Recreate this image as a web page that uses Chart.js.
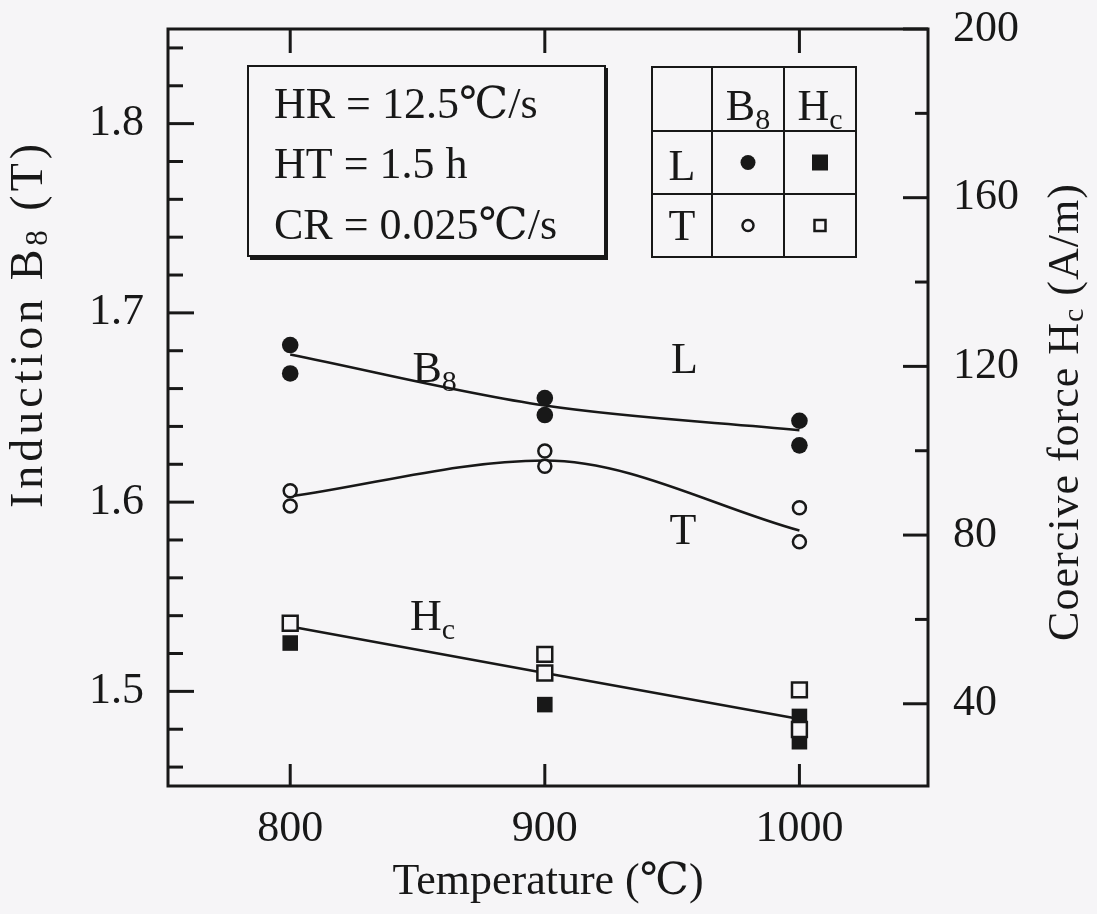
<!DOCTYPE html>
<html>
<head>
<meta charset="utf-8">
<script src="https://cdn.jsdelivr.net/npm/chart.js@4.4.1/dist/chart.umd.min.js"></script>
<style>
  html, body { margin: 0; padding: 0; background: #f6f5f7; }
  #wrap { width: 1097px; height: 914px; }
</style>
</head>
<body>
<div id="wrap"><canvas id="chart" width="1097" height="914"></canvas></div>
<script>
// temperatures (x axis)
const xTicks = [800, 900, 1000];

// B8 (left axis, T)
const b8LTemp = [800, 800, 900, 900, 1000, 1000];
const b8L = [1.683, 1.668, 1.655, 1.646, 1.643, 1.630];
const b8TTemp = [800, 800, 900, 900, 1000, 1000];
const b8T = [1.606, 1.598, 1.627, 1.619, 1.597, 1.579];

// Hc (right axis, A/m)
const hcLTemp = [800, 900, 1000, 1000];
const hcL = [54.4, 39.8, 37.0, 31.0];
const hcTTemp = [800, 900, 900, 1000, 1000];
const hcT = [59.1, 51.7, 47.3, 43.3, 33.9];

// fitted curves
const fitTemp = [800, 900, 1000];
const fitB8L = [1.678, 1.651, 1.638];
const fitB8T = [1.603, 1.622, 1.585];
const fitHc = [58.3, 47.3, 36.4];

// tick values / labels
const leftTicks = [1.46, 1.48, 1.50, 1.52, 1.54, 1.56, 1.58, 1.60, 1.62, 1.64, 1.66, 1.68, 1.70, 1.72, 1.74, 1.76, 1.78, 1.80, 1.82, 1.84];
const leftMajor = [1.5, 1.6, 1.7, 1.8];
const rightTicks = [40, 60, 80, 100, 120, 140, 160, 180, 200];
const rightMajor = [40, 80, 120, 160, 200];

const INK = '#181818';
const PAPER = '#f6f5f7';
const SERIF = "'Liberation Serif', 'DejaVu Serif', 'Noto Sans CJK JP', serif";
const FS = 44;

function pts(xs, ys) {
    return xs.map((x, i) => ({ x: x, y: ys[i] }));
}

// texte avec indice (B8, Hc)
function drawRich(ctx, parts, x, y, size, align) {
    const sub = Math.round(size * 0.68);
    let w = 0;
    parts.forEach(p => {
        ctx.font = (p[1] ? sub : size) + 'px ' + SERIF;
        w += ctx.measureText(p[0]).width;
    });
    let cx = align === 'center' ? x - w / 2 : x;
    ctx.textAlign = 'left';
    parts.forEach(p => {
        ctx.font = (p[1] ? sub : size) + 'px ' + SERIF;
        ctx.fillText(p[0], cx, p[1] ? y + size * 0.2 : y);
        cx += ctx.measureText(p[0]).width;
    });
}

function seg(ctx, x1, y1, x2, y2) {
    ctx.beginPath();
    ctx.moveTo(x1, y1);
    ctx.lineTo(x2, y2);
    ctx.stroke();
}

// cadre, ticks intérieurs, étiquettes et encadrés
const decorPlugin = {
    id: 'decor',
    afterDatasetsDraw(chart) {
        const { ctx, chartArea: a, scales } = chart;
        ctx.save();
        ctx.strokeStyle = INK;
        ctx.fillStyle = INK;
        ctx.lineWidth = 3;
        ctx.strokeRect(a.left, a.top, a.right - a.left, a.bottom - a.top);

        scales.y.ticks.forEach(t => {
            const py = scales.y.getPixelForValue(t.value);
            seg(ctx, a.left, py, a.left + (t.label ? 26 : 15), py);
        });
        scales.y2.ticks.forEach(t => {
            const py = scales.y2.getPixelForValue(t.value);
            seg(ctx, a.right, py, a.right - (t.label ? 25 : 13), py);
        });
        scales.x.ticks.forEach(t => {
            const px = scales.x.getPixelForValue(t.value);
            seg(ctx, px, a.bottom, px, a.bottom - 22);
            seg(ctx, px, a.top, px, a.top + 24);
        });

        // étiquettes des courbes
        ctx.textBaseline = 'alphabetic';
        const X = v => scales.x.getPixelForValue(v);
        const YL = v => scales.y.getPixelForValue(v);
        const YR = v => scales.y2.getPixelForValue(v);
        drawRich(ctx, [['B', false], ['8', true]], X(848), YL(1.6633), FS, 'left');
        drawRich(ctx, [['L', false]], X(949.6), YL(1.6681), FS, 'left');
        drawRich(ctx, [['T', false]], X(949), YL(1.5777), FS, 'left');
        drawRich(ctx, [['H', false], ['c', true]], X(847), YR(57.5), FS, 'left');

        // encadré des conditions
        ctx.lineWidth = 2;
        ctx.strokeRect(248, 66, 357, 190);
        ctx.lineWidth = 4;
        seg(ctx, 250, 258, 608, 258);
        seg(ctx, 606, 68, 606, 260);
        drawRich(ctx, [['HR = 12.5℃/s', false]], 274, 118, FS, 'left');
        drawRich(ctx, [['HT = 1.5 h', false]], 274, 178, FS, 'left');
        drawRich(ctx, [['CR = 0.025℃/s', false]], 274, 239, FS, 'left');

        // tableau des symboles
        const cx = [652, 712, 784, 856];
        const ry = [67, 131, 194, 257];
        ctx.lineWidth = 2;
        ctx.strokeRect(cx[0], ry[0], cx[3] - cx[0], ry[3] - ry[0]);
        seg(ctx, cx[1], ry[0], cx[1], ry[3]);
        seg(ctx, cx[2], ry[0], cx[2], ry[3]);
        seg(ctx, cx[0], ry[1], cx[3], ry[1]);
        seg(ctx, cx[0], ry[2], cx[3], ry[2]);
        const mid = (p, q) => (p + q) / 2;
        drawRich(ctx, [['B', false], ['8', true]], mid(cx[1], cx[2]), 120, FS, 'center');
        drawRich(ctx, [['H', false], ['c', true]], mid(cx[2], cx[3]), 120, FS, 'center');
        drawRich(ctx, [['L', false]], mid(cx[0], cx[1]), 180, FS, 'center');
        drawRich(ctx, [['T', false]], mid(cx[0], cx[1]), 240, FS, 'center');
        const m1 = mid(cx[1], cx[2]), m2 = mid(cx[2], cx[3]);
        const r1 = mid(ry[1], ry[2]), r2 = mid(ry[2], ry[3]);
        ctx.beginPath(); ctx.arc(m1, r1, 7.5, 0, Math.PI * 2); ctx.fill();
        ctx.fillRect(m2 - 8, r1 - 8, 16, 16);
        ctx.lineWidth = 2.5;
        ctx.beginPath(); ctx.arc(m1, r2, 5.5, 0, Math.PI * 2); ctx.stroke();
        ctx.strokeRect(m2 - 5.5, r2 - 5.5, 11, 11);
        ctx.restore();
    },
    afterDraw(chart) {
        const { ctx } = chart;
        ctx.save();
        ctx.fillStyle = INK;
        ctx.textBaseline = 'middle';
        drawRich(ctx, [['Temperature (℃)', false]], 548, 882, FS, 'center');

        ctx.translate(30, 324);
        ctx.rotate(-Math.PI / 2);
        ctx.letterSpacing = '4px';
        drawRich(ctx, [['Induction B', false], ['8', true], [' (T)', false]], 0, 0, 46, 'center');
        ctx.restore();

        ctx.save();
        ctx.fillStyle = INK;
        ctx.textBaseline = 'middle';
        ctx.translate(1066, 412);
        ctx.rotate(-Math.PI / 2);
        ctx.letterSpacing = '1px';
        drawRich(ctx, [['Coercive force H', false], ['c', true], [' (A/m)', false]], 0, 0, FS, 'center');
        ctx.restore();
    }
};

const lineStyle = {
    showLine: true,
    pointRadius: 0,
    borderColor: INK,
    borderWidth: 2.5,
    fill: false,
    order: 5
};

// pas de marge automatique autour des axes
function noPad(s) {
    s.paddingTop = 0;
    s.paddingBottom = 0;
    s.paddingLeft = 0;
    s.paddingRight = 0;
}

const ctx = document.getElementById('chart').getContext('2d');
const chart = new Chart(ctx, {
    type: 'scatter',
    data: {
        datasets: [
            Object.assign({ data: pts(fitTemp, fitB8L), yAxisID: 'y', cubicInterpolationMode: 'monotone' }, lineStyle),
            Object.assign({ data: pts(fitTemp, fitB8T), yAxisID: 'y', cubicInterpolationMode: 'monotone' }, lineStyle),
            Object.assign({ data: pts(fitTemp, fitHc), yAxisID: 'y2', tension: 0 }, lineStyle),
            {
                data: pts(b8LTemp, b8L), yAxisID: 'y', pointStyle: 'circle',
                pointRadius: 8.3, backgroundColor: INK, borderColor: INK, borderWidth: 0, order: 2
            },
            {
                data: pts(hcLTemp, hcL), yAxisID: 'y2', pointStyle: 'rect',
                pointRadius: 11, backgroundColor: INK, borderColor: INK, borderWidth: 0, order: 2
            },
            {
                data: pts(b8TTemp, b8T), yAxisID: 'y', pointStyle: 'circle',
                pointRadius: 6.5, backgroundColor: PAPER, borderColor: INK, borderWidth: 2.5, order: 1
            },
            {
                data: pts(hcTTemp, hcT), yAxisID: 'y2', pointStyle: 'rect',
                pointRadius: 10.5, backgroundColor: PAPER, borderColor: INK, borderWidth: 2.5, order: 1
            }
        ]
    },
    options: {
        responsive: false,
        animation: false,
        layout: { padding: { top: 29, left: 0, right: 0, bottom: 0 } },
        plugins: { legend: { display: false }, tooltip: { enabled: false } },
        scales: {
            x: {
                type: 'linear',
                position: 'bottom',
                min: 752,
                max: 1050.5,
                afterBuildTicks: s => { s.ticks = xTicks.map(v => ({ value: v })); },
                afterFit: s => { s.height = 128; noPad(s); },
                grid: { display: false, drawTicks: false },
                border: { display: false },
                ticks: {
                    autoSkip: false, maxRotation: 0, padding: 17,
                    color: INK, font: { family: SERIF, size: FS },
                    callback: v => String(v)
                }
            },
            y: {
                type: 'linear',
                position: 'left',
                min: 1.45,
                max: 1.85,
                afterBuildTicks: s => { s.ticks = leftTicks.map(v => ({ value: v })); },
                afterFit: s => { s.width = 168; noPad(s); },
                grid: { display: false, drawTicks: false },
                border: { display: false },
                ticks: {
                    autoSkip: false, padding: 24,
                    color: INK, font: { family: SERIF, size: FS },
                    callback: v => leftMajor.includes(v) ? v.toFixed(1) : ''
                }
            },
            y2: {
                type: 'linear',
                position: 'right',
                min: 20.5,
                max: 200,
                afterBuildTicks: s => { s.ticks = rightTicks.map(v => ({ value: v })); },
                afterFit: s => { s.width = 169; noPad(s); },
                grid: { display: false, drawTicks: false },
                border: { display: false },
                ticks: {
                    autoSkip: false, padding: 25,
                    color: INK, font: { family: SERIF, size: FS },
                    callback: v => rightMajor.includes(v) ? String(v) : ''
                }
            }
        }
    },
    plugins: [decorPlugin]
});
</script>
</body>
</html>
